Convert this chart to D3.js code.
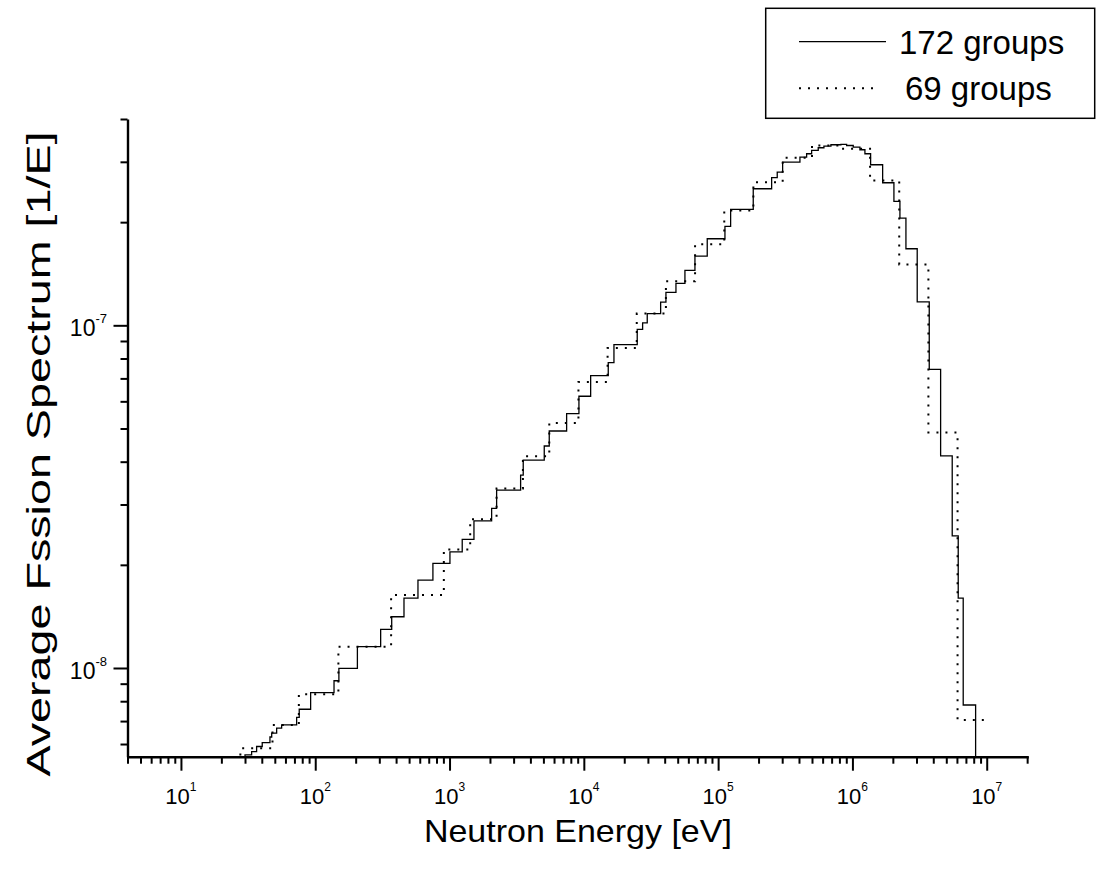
<!DOCTYPE html>
<html>
<head>
<meta charset="utf-8">
<script src="https://cdnjs.cloudflare.com/ajax/libs/d3/7.8.5/d3.min.js"></script>
<style>
  body { margin: 0; background: #fff; }
  text { font-family: "Liberation Sans", Arial, sans-serif; fill: #000; }
</style>
</head>
<body>
<div id="chart"></div>
<script>
// group boundaries [eV] and group averaged spectrum ******************************
var edges172 = [25.7, 30.0, 33.6, 36.6, 40.3, 46.0, 47.4, 51.6, 56.2, 72.7, 76.0, 92.4, 138, 150, 206, 307,
  371, 458, 582, 752, 1007, 1243, 1520, 2058, 2242, 3383, 3538, 5073, 5527, 7446, 9194, 11240, 15200,
  16760, 24980, 27400, 29660, 37320, 40870, 48530, 56600, 67200, 82970, 1.124e5, 1.239e5, 1.826e5,
  2.503e5, 2.755e5, 3.022e5, 4.066e5, 4.56e5, 4.968e5, 5.564e5, 6.135e5, 6.917e5, 8.211e5, 9.053e5,
  1.014e6, 1.137e6, 1.239e6, 1.366e6, 1.679e6, 2.037e6, 2.258e6, 2.503e6, 3.037e6, 3.733e6, 4.537e6,
  5.535e6, 6.135e6, 6.683e6, 8.267e6, 1.0e7];
var flux172 = [4e-9, 5.58e-9, 5.70e-9, 5.90e-9, 6.06e-9, 6.29e-9, 6.46e-9, 6.68e-9, 6.82e-9, 7.18e-9,
  7.58e-9, 8.47e-9, 9.18e-9, 9.98e-9, 1.154e-8, 1.297e-8, 1.411e-8, 1.600e-8, 1.805e-8, 2.019e-8,
  2.183e-8, 2.372e-8, 2.688e-8, 2.921e-8, 3.304e-8, 3.654e-8, 4.041e-8, 4.445e-8, 4.916e-8, 5.528e-8,
  6.209e-8, 7.135e-8, 7.785e-8, 8.785e-8, 9.735e-8, 1.016e-7, 1.082e-7, 1.169e-7, 1.248e-7, 1.326e-7,
  1.447e-7, 1.592e-7, 1.789e-7, 1.944e-7, 2.179e-7, 2.503e-7, 2.696e-7, 2.799e-7, 2.993e-7, 3.095e-7,
  3.167e-7, 3.238e-7, 3.297e-7, 3.332e-7, 3.364e-7, 3.371e-7, 3.348e-7, 3.310e-7, 3.253e-7, 3.167e-7,
  2.941e-7, 2.606e-7, 2.299e-7, 2.055e-7, 1.673e-7, 1.171e-7, 7.44e-8, 4.16e-8, 2.43e-8, 1.60e-8,
  7.80e-9, 4e-9];

var edges69 = [15.968, 27.7, 48.052, 75.5014, 148.728, 367.262, 906.898, 1425.1, 2239.45, 3519.1, 5530,
  9118, 15030, 24780, 40850, 67340, 111090, 183000, 302500, 500000, 821000, 1353000, 2231000, 3679000,
  6065500, 1e7];
var flux69 = [4e-9, 5.83e-9, 6.82e-9, 8.38e-9, 1.154e-8, 1.632e-8, 2.218e-8, 2.719e-8, 3.342e-8,
  4.150e-8, 5.189e-8, 6.833e-8, 8.588e-8, 1.082e-7, 1.344e-7, 1.723e-7, 2.164e-7, 2.617e-7, 3.083e-7,
  3.348e-7, 3.275e-7, 2.646e-7, 1.506e-7, 4.87e-8, 7.05e-9];

// ticks ***********
var xMajor = [1e1, 1e2, 1e3, 1e4, 1e5, 1e6, 1e7];
var xMajorExp = ["1", "2", "3", "4", "5", "6", "7"];
var yMajor = [1e-8, 1e-7];
var yMajorExp = ["-8", "-7"];
var legendNames = ["172 groups", "69 groups"];

var svgWidth = 1096;
var svgHeight = 873;
var plot = { left: 127.5, right: 1028.3, top: 119, bottom: 756.7 };

var svg = d3.select("#chart")
  .append("svg")
  .attr("width", svgWidth)
  .attr("height", svgHeight);

// scales ***********
var x = d3.scaleLog().domain([4, 2.04e7]).range([plot.left, plot.right]);
var y = d3.scaleLog().domain([5.51e-9, 4e-7]).range([plot.bottom, plot.top]);

function minorTicks(lo, hi) {
  var out = [];
  for (var p = Math.floor(Math.log10(lo)); p <= Math.ceil(Math.log10(hi)); p++) {
    for (var m = 2; m <= 9; m++) {
      var v = m * Math.pow(10, p);
      if (v >= lo * 0.999 && v <= hi * 1.001) out.push(v);
    }
  }
  return out;
}
var xMinor = minorTicks(4, 2.04e7);
var yMinor = minorTicks(5.51e-9, 4e-7);

// clip the step lines to the plot area ***********
svg.append("clipPath").attr("id", "clip")
  .append("rect")
  .attr("x", plot.left).attr("y", plot.top - 2)
  .attr("width", plot.right - plot.left).attr("height", plot.bottom - plot.top + 2);

function stepPoints(edges, vals) {
  var pts = vals.map(function(v, i) { return [edges[i], v]; });
  pts.push([edges[edges.length - 1], vals[vals.length - 1]]);
  return pts;
}

var line = d3.line()
  .x(function(d) { return x(d[0]); })
  .y(function(d) { return y(d[1]); })
  .curve(d3.curveStepAfter);

var lines = svg.append("g").attr("clip-path", "url(#clip)");

lines.append("path")
  .datum(stepPoints(edges69, flux69))
  .attr("d", line)
  .attr("fill", "none")
  .attr("stroke", "#000")
  .attr("stroke-width", 2)
  .attr("stroke-dasharray", "2,7");

lines.append("path")
  .datum(stepPoints(edges172, flux172))
  .attr("d", line)
  .attr("fill", "none")
  .attr("stroke", "#000")
  .attr("stroke-width", 1.3);

// axes ***********
function styleAxis(g, keepDomain) {
  g.selectAll(".tick line").attr("stroke", "#000").attr("stroke-width", 2);
  g.selectAll(".tick text").remove();
  if (keepDomain) g.select(".domain").attr("stroke", "#000").attr("stroke-width", 2.4);
  else g.select(".domain").remove();
}

svg.append("g")
  .attr("transform", "translate(0," + plot.bottom + ")")
  .call(d3.axisBottom(x).tickValues(xMinor).tickSize(7).tickSizeOuter(0).tickFormat(""))
  .call(styleAxis, false);

svg.append("g")
  .attr("transform", "translate(0," + plot.bottom + ")")
  .call(d3.axisBottom(x).tickValues(xMajor).tickSize(14).tickSizeOuter(0).tickFormat(""))
  .call(styleAxis, true);

svg.append("g")
  .attr("transform", "translate(" + plot.left + ",0)")
  .call(d3.axisLeft(y).tickValues(yMinor).tickSize(7).tickSizeOuter(0).tickFormat(""))
  .call(styleAxis, false);

svg.append("g")
  .attr("transform", "translate(" + plot.left + ",0)")
  .call(d3.axisLeft(y).tickValues(yMajor).tickSize(14).tickSizeOuter(0).tickFormat(""))
  .call(styleAxis, true);

// power-of-ten labels ***********
var xLab = svg.append("g").selectAll("text")
  .data(xMajor)
  .enter()
  .append("text")
  .attr("x", function(d) { return x(d); })
  .attr("y", 804)
  .attr("text-anchor", "middle")
  .style("font-size", "22px");
xLab.append("tspan").text("10");
xLab.append("tspan").attr("dy", -13).style("font-size", "12px").text(function(d, i) { return xMajorExp[i]; });

var yLab = svg.append("g").selectAll("text")
  .data(yMajor)
  .enter()
  .append("text")
  .attr("x", 107)
  .attr("y", function(d) { return y(d) + 11; })
  .attr("text-anchor", "end")
  .style("font-size", "23px");
yLab.append("tspan").text("10");
yLab.append("tspan").attr("dy", -13).style("font-size", "13px").text(function(d, i) { return yMajorExp[i]; });

// axis titles ***********
svg.append("text")
  .attr("x", (plot.left + plot.right) / 2)
  .attr("y", 842)
  .attr("text-anchor", "middle")
  .attr("textLength", 308)
  .attr("lengthAdjust", "spacingAndGlyphs")
  .style("font-size", "32px")
  .text("Neutron Energy [eV]");

svg.append("text")
  .attr("transform", "translate(50,454) rotate(-90)")
  .attr("text-anchor", "middle")
  .attr("textLength", 645)
  .attr("lengthAdjust", "spacingAndGlyphs")
  .style("font-size", "33px")
  .text("Average Fssion Spectrum [1/E]");

// legend ***********
var legend = svg.append("g");
legend.append("rect")
  .attr("x", 765.7).attr("y", 8.3)
  .attr("width", 329).attr("height", 110)
  .attr("fill", "#fff")
  .attr("stroke", "#000")
  .attr("stroke-width", 1.5);

legend.append("line")
  .attr("x1", 799).attr("x2", 886).attr("y1", 41.7).attr("y2", 41.7)
  .attr("stroke", "#000").attr("stroke-width", 1.3);
legend.append("line")
  .attr("x1", 799).attr("x2", 879).attr("y1", 88.3).attr("y2", 88.3)
  .attr("stroke", "#000").attr("stroke-width", 2).attr("stroke-dasharray", "2,7");

legend.selectAll("text.name")
  .data(legendNames)
  .enter()
  .append("text")
  .attr("class", "name")
  .attr("x", function(d, i) { return i === 0 ? 899 : 905; })
  .attr("y", function(d, i) { return i === 0 ? 53.5 : 100; })
  .style("font-size", "33px")
  .text(function(d) { return d; });
</script>
</body>
</html>
